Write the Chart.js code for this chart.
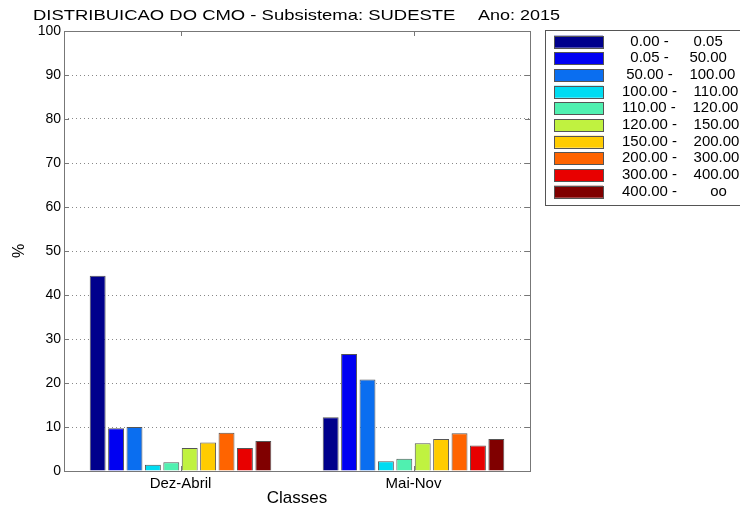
<!DOCTYPE html>
<html>
<head>
<meta charset="utf-8">
<script src="https://cdn.jsdelivr.net/npm/chart.js@4/dist/chart.umd.min.js"></script>
<style>
  body { margin: 0; background: #fff; }
  #chart { display: block; }
</style>
</head>
<body>
<canvas id="chart" width="740" height="507"></canvas>
<script>
const categories = ["Dez-Abril", "Mai-Nov"];
const lowerBounds = ["0.00", "0.05", "50.00", "100.00", "110.00", "120.00", "150.00", "200.00", "300.00", "400.00"];
const upperBounds = ["0.05", "50.00", "100.00", "110.00", "120.00", "150.00", "200.00", "300.00", "400.00", "oo"];
const dezAbril = [44.4, 9.7, 10.0, 1.4, 2.0, 5.2, 6.5, 8.7, 5.2, 6.8];
const maiNov = [12.2, 26.6, 20.8, 2.2, 2.8, 6.3, 7.3, 8.6, 5.8, 7.3];
const yTicks = [0, 10, 20, 30, 40, 50, 60, 70, 80, 90, 100];
const classColors = ["#00008c", "#0000f2", "#0a6ef0", "#00dcf2", "#50f0b0", "#c0f240", "#ffcc00", "#ff6400", "#e80000", "#800000"];

const fontFamily = "'Liberation Sans', Arial, sans-serif";
Chart.defaults.font.family = fontFamily;
Chart.defaults.color = "#000";

const datasets = lowerBounds.map((lo, i) => ({
  label: lo + " - " + upperBounds[i],
  data: [dezAbril[i], maiNov[i]],
  backgroundColor: classColors[i],
  borderColor: "#555",
  borderWidth: 1,
  categoryPercentage: 0.79,
  barPercentage: 0.865
}));

// text in the picture is a bit stretched sideways
const stretchText = (ctx, text, x, y, sx) => {
  ctx.save();
  ctx.translate(x, y);
  ctx.scale(sx, 1);
  ctx.fillText(text, 0, 0);
  ctx.restore();
};

// matlab style frame, inner ticks, title and legend box
const matlabFrame = {
  id: "matlabFrame",
  afterDraw(chart) {
    const ctx = chart.ctx;
    const a = chart.chartArea;
    const xs = chart.scales.x;
    const ys = chart.scales.y;
    ctx.save();
    ctx.strokeStyle = "#777";
    ctx.lineWidth = 1;
    ctx.strokeRect(a.left + 0.5, a.top + 0.5, a.right - a.left, a.bottom - a.top);
    ctx.beginPath();
    yTicks.forEach(v => {
      const y = Math.round(ys.getPixelForValue(v)) + 0.5;
      ctx.moveTo(a.left, y); ctx.lineTo(a.left + 5, y);
      ctx.moveTo(a.right, y); ctx.lineTo(a.right - 5, y);
    });
    categories.forEach((c, i) => {
      const x = Math.round(xs.getPixelForValue(i)) + 0.5;
      ctx.moveTo(x, a.top); ctx.lineTo(x, a.top + 5);
      ctx.moveTo(x, a.bottom); ctx.lineTo(x, a.bottom - 5);
    });
    ctx.stroke();

    // title
    ctx.fillStyle = "#000";
    ctx.font = "15px " + fontFamily;
    ctx.textBaseline = "middle";
    ctx.textAlign = "left";
    stretchText(ctx, "DISTRIBUICAO DO CMO - Subsistema: SUDESTE", 33, 16, 1.23);
    stretchText(ctx, "Ano: 2015", 478, 16, 1.2);

    // legend
    const lx = 545, ly = 30, lw = 200, lh = 175;
    ctx.fillStyle = "#fff";
    ctx.fillRect(lx, ly, lw, lh);
    ctx.strokeStyle = "#555";
    ctx.strokeRect(lx + 0.5, ly + 0.5, lw, lh);
    ctx.font = "14px " + fontFamily;
    lowerBounds.forEach((lo, i) => {
      const cy = 41.7 + i * 16.67;
      ctx.fillStyle = classColors[i];
      ctx.fillRect(554, cy - 6, 49, 12);
      ctx.strokeStyle = "#555";
      ctx.strokeRect(554.5, Math.round(cy - 6) + 0.5, 49, 12);
      ctx.fillStyle = "#000";
      ctx.textAlign = "left";
      const txt = lo.padStart(6, " ") + " -    " + upperBounds[i].padStart(6, " ");
      stretchText(ctx, txt, 622, cy, 1.07);
    });
    ctx.restore();
  }
};

new Chart(document.getElementById("chart"), {
  type: "bar",
  data: {
    labels: categories,
    datasets: datasets
  },
  options: {
    responsive: false,
    animation: false,
    layout: {
      padding: {left: 0, top: 31, right: 210, bottom: 0}
    },
    plugins: {
      legend: {display: false},
      tooltip: {enabled: false}
    },
    scales: {
      x: {
        grid: {display: false, drawTicks: false},
        border: {display: false},
        ticks: {font: {size: 15}, padding: 4},
        title: {
          display: true,
          text: "Classes",
          font: {size: 17, lineHeight: 1.0},
          padding: {top: 0, bottom: 0}
        },
        afterFit: (scale) => { scale.height = 36; }
      },
      y: {
        min: 0,
        max: 100,
        afterBuildTicks: (scale) => { scale.ticks = yTicks.map(v => ({value: v})); },
        grid: {color: "#888", drawTicks: false, lineWidth: 1},
        border: {display: false, dash: [1, 3]},
        ticks: {font: {size: 14}, padding: 3},
        title: {
          display: true,
          text: "%",
          font: {size: 16},
          padding: {top: 10, bottom: 0}
        },
        afterFit: (scale) => { scale.width = 64; }
      }
    }
  },
  plugins: [matlabFrame]
});
</script>
</body>
</html>
